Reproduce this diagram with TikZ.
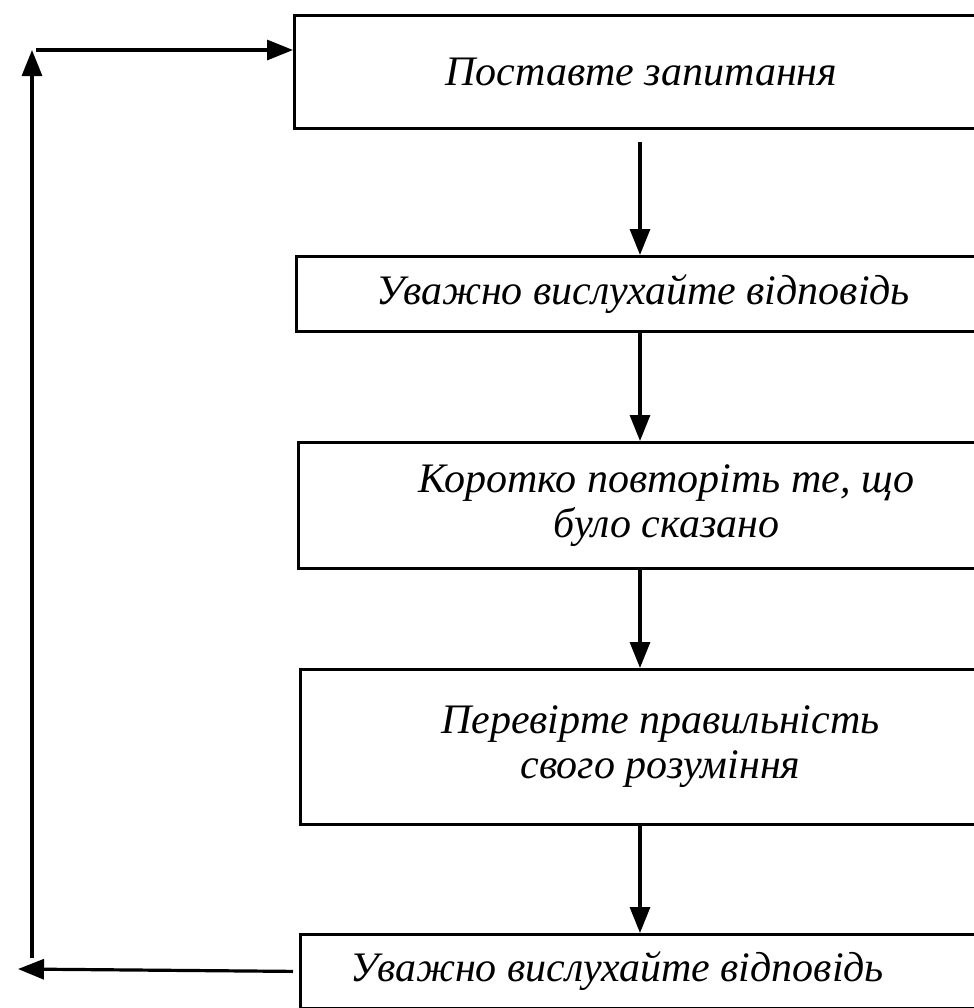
\documentclass[tikz,border=0pt]{standalone}
\usepackage{fontspec}
\setmainfont{Liberation Serif}
\usetikzlibrary{arrows.meta,positioning}

\begin{document}
\begin{tikzpicture}[
  x=0.5pt, y=-0.5pt,
  stepbox/.style 2 args={
    draw, rectangle, line width=1.4pt,
    minimum width=#1*0.5pt, minimum height=#2*0.5pt,
    inner sep=0pt, align=center, anchor=north west,
    font=\fontsize{21}{22.5}\selectfont\itshape,
  },
  flow/.style={line width=1.6pt, -{Triangle[length=13pt,width=10pt]}},
]
\clip (0,0) rectangle (974,1008);

\node[stepbox={694}{113}] (ask) at (293,14) {Поставте запитання};
\node[stepbox={694}{75}] (listen) at (295,255) {Уважно вислухайте відповідь};
\node[stepbox={736}{126}] (repeat) at (297,441) {Коротко повторіть те, що\\було сказано};
\node[stepbox={720}{155}] (check) at (299,668) {Перевірте правильність\\свого розуміння};
\node[stepbox={800}{74}] (listenagain) at (299,933) {Уважно вислухайте відповідь\hspace*{83pt}\null};

\coordinate (col) at (640,0);
\coordinate (loopbot) at (32,958);
\coordinate (looptop) at (32,50);
\coordinate (outend) at (18,969);

\draw[flow] ([yshift=-6pt]ask.south -| col) -- (listen.north -| col);
\draw[flow] (listen.south -| col) -- (repeat.north -| col);
\draw[flow] (repeat.south -| col) -- (check.north -| col);
\draw[flow] (check.south -| col) -- (listenagain.north -| col);

% loop back to the first question
\draw[flow] ([xshift=-3pt]listenagain.west) -- (outend);
\draw[flow] (loopbot) -- (looptop);
\draw[flow] ([xshift=2pt]looptop) -- (ask.west |- looptop);

\end{tikzpicture}
\end{document}
